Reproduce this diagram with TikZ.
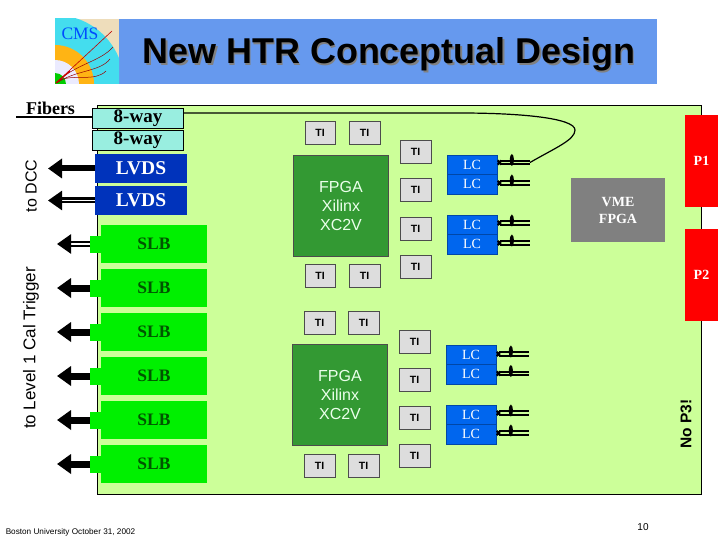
\documentclass[tikz,border=0pt]{standalone}
\usepackage{fontspec}
\setmainfont{Liberation Serif}
\setsansfont{Liberation Sans}
\usepackage{tikz}
\usetikzlibrary{positioning,arrows.meta,shapes.geometric}
\definecolor{boardgreen}{HTML}{CCFF99}
\definecolor{headblue}{HTML}{6699EE}
\definecolor{waycyan}{HTML}{99EEE0}
\definecolor{lvdsblue}{HTML}{0033BB}
\definecolor{lcblue}{HTML}{0066EE}
\definecolor{slbgreen}{HTML}{00F000}
\definecolor{slbtext}{HTML}{005500}
\definecolor{fpgagreen}{HTML}{339933}
\definecolor{tigrey}{HTML}{DDDDDD}
\definecolor{logocyan}{HTML}{44DDEE}
\definecolor{logobeige}{HTML}{EEDDBB}
\definecolor{logoorange}{HTML}{FFB414}

\begin{document}
\begin{tikzpicture}[
    x=1pt, y=-1pt,
    box/.style={draw, inner sep=0pt, outer sep=0pt, align=center},
    plain/.style={box, draw=none},
    way/.style={box, fill=waycyan, minimum width=91pt, minimum height=20pt, font=\fontsize{19}{21}\selectfont\bfseries},
    lvds/.style={plain, fill=lvdsblue, text=white, minimum width=92pt, minimum height=29pt, font=\fontsize{19.5}{21}\selectfont\bfseries},
    slb/.style={plain, fill=slbgreen, text=slbtext, minimum width=106pt, minimum height=38pt, font=\fontsize{17.5}{20}\selectfont\bfseries},
    slbtab/.style={plain, fill=slbgreen, minimum width=11pt, minimum height=17pt},
    ti/.style={box, draw=black!70, fill=tigrey, minimum width=30.5pt, minimum height=23pt, font=\sffamily\bfseries\fontsize{10.5}{12}\selectfont},
    fpga/.style={box, draw=black!70, fill=fpgagreen, text=white!92!green, minimum width=95pt, minimum height=101pt, font=\sffamily\fontsize{16}{19}\selectfont},
    lc/.style={box, draw=lcblue!70!black, line width=0.4pt, fill=lcblue, text=white, minimum width=50pt, minimum height=19.5pt, font=\fontsize{14}{16}\selectfont},
    conn/.style={plain, fill=red, text=white, minimum width=33pt, minimum height=92pt, font=\fontsize{14}{16}\selectfont\bfseries},
    fatarrow/.style={-{Triangle[length=14pt,width=19pt]}, line width=7pt},
    duoarrow/.style={-{Triangle[length=14pt,width=19pt]}, line width=2.4pt, double=white, double distance=1.2pt},
    lcline/.style={{Rays[length=5pt,width=6pt,line width=2pt]}-, line width=2pt, double=boardgreen, double distance=1.8pt},
    bump/.style={ellipse, fill=black, inner sep=0pt, minimum width=4pt, minimum height=12pt, yshift=2.5pt},
    side/.style={font=\sffamily\fontsize{16}{18}\selectfont, rotate=90},
]
\useasboundingbox (0,0) rectangle (720,540);

% header
\node[plain, fill=headblue, minimum width=538pt, minimum height=65pt] (head) at (388,51.5) {};
\fill[logobeige] (55,19) rectangle (119,84);
\begin{scope}
  \clip (55,19) rectangle (119,84);
  \fill[logocyan] (55,84) circle [radius=69];
  \fill[logoorange] (55,84) circle [radius=39];
  \fill[white!92!blue] (55,84) circle [radius=24];
  \fill[green!80!black] (55,84) circle [radius=11];
  \draw[red!75!black, line width=0.6pt] (56,83) -- (112,31);
  \draw[red!60!black, line width=0.5pt] (56,83) .. controls (75,64) and (100,62) .. (113,47);
  \draw[red!60!black, line width=0.5pt] (57,83) .. controls (75,70) and (100,72) .. (110,59);
  \draw[red!60!black, line width=0.5pt] (60,80) .. controls (75,74) and (95,82) .. (106,71);
  \draw[red!80!black, line width=1.2pt] (56,83) -- (70,71);
\end{scope}
\node[plain, text=blue!70!cyan, font=\fontsize{17.5}{19}\selectfont] (cms) at (80,34) {CMS};
\node[font=\sffamily\bfseries\fontsize{35.9}{38}\selectfont, text=black!50, inner sep=0pt] (titleshade) at (390.5,56) {New HTR Conceptual Design};
\node[font=\sffamily\bfseries\fontsize{35.9}{38}\selectfont, inner sep=0pt] (title) at (389,54.5) {New HTR Conceptual Design};

% board
\node[box, fill=boardgreen, minimum width=604pt, minimum height=389pt] (board) at (399.5,299.5) {};

% inputs and outputs on the left
\node[way] (wayA) at (138,118.5) {8-way};
\node[way, below=2pt of wayA] (wayB) {8-way};
\node[lvds] (lvdsA) at (141,168.5) {LVDS};
\node[lvds, below=3pt of lvdsA] (lvdsB) {LVDS};
\node[slb] (slbA) at (154,244) {SLB};
\node[slb, below=6pt of slbA] (slbB) {SLB};
\node[slb, below=6pt of slbB] (slbC) {SLB};
\node[slb, below=6pt of slbC] (slbD) {SLB};
\node[slb, below=6pt of slbD] (slbE) {SLB};
\node[slb, below=6pt of slbE] (slbF) {SLB};
\node[slbtab, left=0pt of slbA] (tabA) {};
\node[slbtab, left=0pt of slbB] (tabB) {};
\node[slbtab, left=0pt of slbC] (tabC) {};
\node[slbtab, left=0pt of slbD] (tabD) {};
\node[slbtab, left=0pt of slbE] (tabE) {};
\node[slbtab, left=0pt of slbF] (tabF) {};

\coordinate[left=47pt of lvdsA.west] (dccA);
\coordinate[left=47pt of lvdsB.west] (dccB);
\coordinate[left=33pt of tabA.west] (outA);
\coordinate[left=33pt of tabB.west] (outB);
\coordinate[left=33pt of tabC.west] (outC);
\coordinate[left=33pt of tabD.west] (outD);
\coordinate[left=33pt of tabE.west] (outE);
\coordinate[left=33pt of tabF.west] (outF);
\draw[fatarrow, line width=6pt] (lvdsA.west) -- (dccA);
\draw[duoarrow] (lvdsB.west) -- (dccB);
\draw[duoarrow] (tabA) -- (outA);
\draw[fatarrow] (tabB) -- (outB);
\draw[fatarrow] (tabC) -- (outC);
\draw[fatarrow] (tabD) -- (outD);
\draw[fatarrow] (tabE) -- (outE);
\draw[fatarrow] (tabF) -- (outF);

% upper FPGA
\node[ti] (tiA) at (320,132.5) {TI};
\node[ti, right=14pt of tiA] (tiB) {TI};
\node[ti] (tiC) at (415.5,151.5) {TI};
\node[ti, below=15.5pt of tiC] (tiD) {TI};
\node[ti, below=15.5pt of tiD] (tiE) {TI};
\node[ti, below=15.5pt of tiE] (tiF) {TI};
\node[fpga] (fpgaA) at (341,205.5) {FPGA\\Xilinx\\XC2V};
\node[ti] (tiG) at (320,276) {TI};
\node[ti, right=14pt of tiG] (tiH) {TI};

% lower FPGA
\node[ti] (tiI) at (319.5,323) {TI};
\node[ti, right=13.5pt of tiI] (tiJ) {TI};
\node[ti] (tiK) at (414.5,341.5) {TI};
\node[ti, below=15pt of tiK] (tiL) {TI};
\node[ti, below=15pt of tiL] (tiM) {TI};
\node[ti, below=15.5pt of tiM] (tiN) {TI};
\node[fpga] (fpgaB) at (340,394.5) {FPGA\\Xilinx\\XC2V};
\node[ti] (tiO) at (319.5,465.5) {TI};
\node[ti, right=13.5pt of tiO] (tiP) {TI};

% LC links
\node[lc] (lcA) at (472,164.5) {LC};
\node[lc, below=0pt of lcA] (lcB) {LC};
\node[lc] (lcC) at (472,224.5) {LC};
\node[lc, below=0pt of lcC] (lcD) {LC};
\node[lc] (lcE) at (471,354.5) {LC};
\node[lc, below=0pt of lcE] (lcF) {LC};
\node[lc] (lcG) at (471,414.5) {LC};
\node[lc, below=0pt of lcG] (lcH) {LC};
\coordinate (fibA) at (530,162.5);
\coordinate (fibB) at (530,183);
\coordinate (fibC) at (530,223);
\coordinate (fibD) at (530,243);
\coordinate (fibE) at (529,354);
\coordinate (fibF) at (529,373.5);
\coordinate (fibG) at (529,413);
\coordinate (fibH) at (529,433);
\draw[lcline] (lcA.east |- fibA) -- (fibA) node[bump, pos=0.45] (plugA) {};
\draw[lcline] (lcB.east |- fibB) -- (fibB) node[bump, pos=0.45] (plugB) {};
\draw[lcline] (lcC.east |- fibC) -- (fibC) node[bump, pos=0.45] (plugC) {};
\draw[lcline] (lcD.east |- fibD) -- (fibD) node[bump, pos=0.45] (plugD) {};
\draw[lcline] (lcE.east |- fibE) -- (fibE) node[bump, pos=0.45] (plugE) {};
\draw[lcline] (lcF.east |- fibF) -- (fibF) node[bump, pos=0.45] (plugF) {};
\draw[lcline] (lcG.east |- fibG) -- (fibG) node[bump, pos=0.45] (plugG) {};
\draw[lcline] (lcH.east |- fibH) -- (fibH) node[bump, pos=0.45] (plugH) {};

% VME and connectors
\node[plain, fill=black!50, text=white, minimum width=94pt, minimum height=64pt, font=\fontsize{14}{17}\selectfont\bfseries] (vme) at (618,210) {VME\\FPGA};
\node[conn] (pA) at (701.5,161) {P1};
\node[conn, below=22pt of pA] (pB) {P2};

% fiber lines
\coordinate (fibL) at (16,117);
\coordinate (fibT) at (460,113);
\draw[line width=1.2pt] (fibL) -- (wayA.west |- fibL);
\draw[line width=1.2pt] (fibA) .. controls (555,148) and (575,140) .. (575,130) .. controls (575,118) and (520,113) .. (fibT) -- (wayA.east |- fibT);

% labels
\node[font=\fontsize{18}{20}\selectfont\bfseries] (fibers) at (50.5,108) {Fibers};
\node[side] (todcc) at (31,186) {to DCC};
\node[side, font=\sffamily\fontsize{17}{19}\selectfont] (totrig) at (31,348) {to Level 1 Cal Trigger};
\node[side, font=\sffamily\bfseries\fontsize{15.5}{18}\selectfont] (nop) at (686,424) {No P3!};
\node[font=\sffamily\fontsize{8.2}{10}\selectfont] (foot) at (70.5,532) {Boston University October 31, 2002};
\node[font=\sffamily\fontsize{10}{12}\selectfont] (pagenum) at (643,527) {10};
\end{tikzpicture}
\end{document}
